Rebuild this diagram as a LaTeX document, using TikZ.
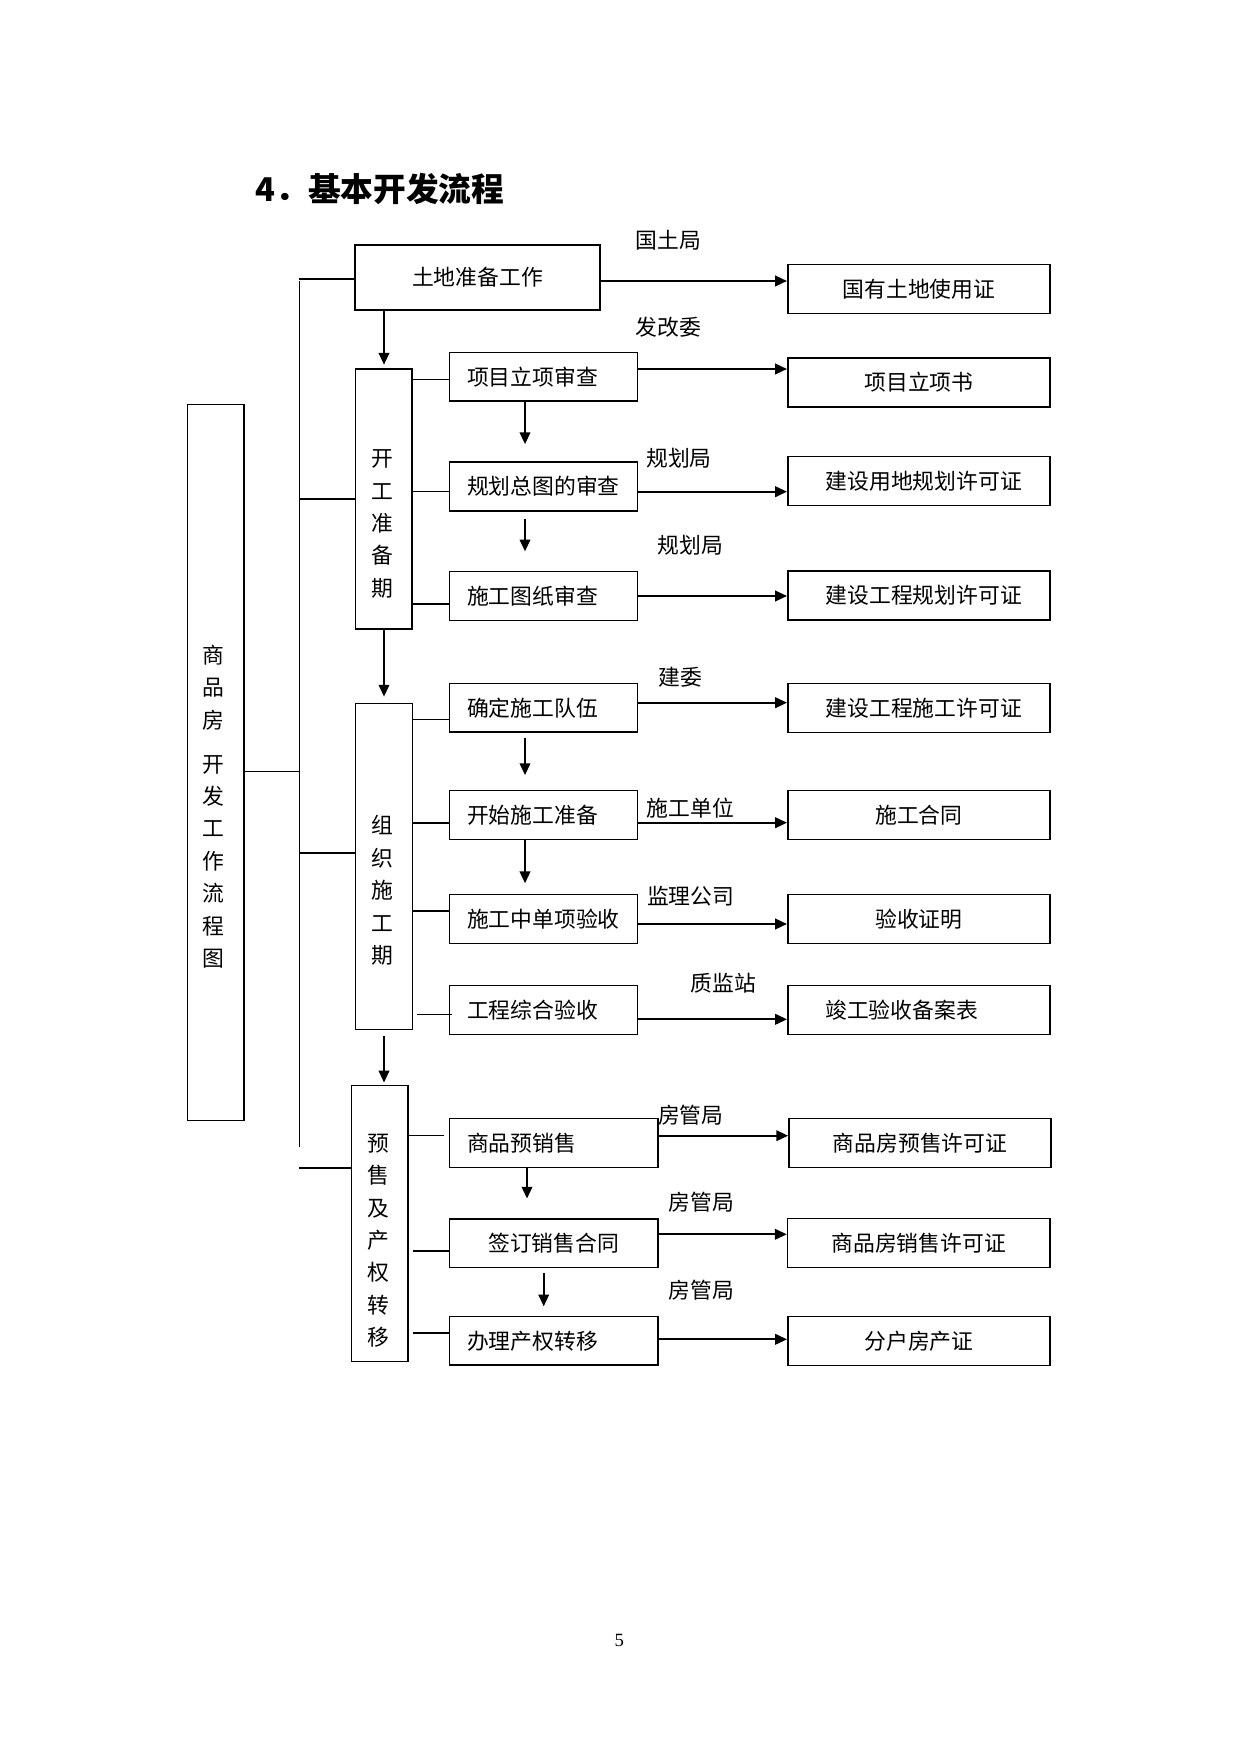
\documentclass[tikz,border=0pt]{standalone}
\usepackage{fontspec}
\setmainfont{Noto Sans CJK SC}
\newfontfamily\pagenumfont{Liberation Serif}
\usetikzlibrary{arrows.meta}
\def\px{0.169218mm}
\tikzset{
	boxline/.style={draw,line width=0.75pt,inner sep=0pt,font=\fontsize{10.5pt}{12pt}\selectfont},
	stagebox/.style={boxline,minimum width=56.7*\px},
	subbox/.style={boxline,minimum height=48.7*\px,inner xsep=17.7*\px,align=left},
	resultbox/.style={boxline,minimum width=262.3*\px,minimum height=49*\px},
	longresult/.style={resultbox,text width=186.3*\px,inner xsep=38*\px,align=left},
	vlabel/.style={align=center,inner sep=0pt,font=\fontsize{10.5pt}{15.6pt}\selectfont},
	agency/.style={inner sep=0pt,font=\fontsize{10.5pt}{12pt}\selectfont},
	conn/.style={line width=0.85pt},
	weakconn/.style={line width=0.4pt}
}

\begin{document}
\begin{tikzpicture}[line cap=rect,line join=miter,>={Triangle[length=2mm,width=1.8mm]},x=0.169218mm,y=-0.169218mm]
			\useasboundingbox (0,0) rectangle (1241,1754);
			\node[anchor=west,inner sep=0pt,font=\fontsize{15.75pt}{18pt}\selectfont\bfseries] (title) at (255,189) {4．基本开发流程};
			\node[stagebox,minimum width=56.5*\px,minimum height=715.8*\px] (big) at (215.75,762.4) {};
			\node[vlabel] (big-t) at (213.3,806.7) {商\\品\\房\\[5.5pt]开\\发\\工\\作\\流\\程\\图};
			\node[boxline,minimum width=244.8*\px,minimum height=65*\px] (land) at (477.6,277.5) {土地准备工作};
			\node[stagebox,minimum height=260*\px] (prep) at (383.9,499) {};
			\node[vlabel] (prep-t) at (382.2,523.9) {开\\工\\准\\备\\期};
			\node[stagebox,minimum height=326*\px] (build) at (384,866.3) {};
			\node[vlabel] (build-t) at (382.7,890.4) {组\\织\\施\\工\\期};
			\node[stagebox,minimum height=276*\px] (sale) at (379.7,1223.3) {};
			\node[vlabel] (sale-t) at (378.3,1240.8) {预\\售\\及\\产\\权\\转\\移};
			\node[subbox,text width=152.6*\px] (p1) at (543.3,376.7) {项目立项审查};
			\node[subbox,text width=152.6*\px] (p2) at (543.3,486.4) {规划总图的审查};
			\node[subbox,text width=152.6*\px] (p3) at (543.3,596) {施工图纸审查};
			\node[subbox,text width=152.6*\px] (b1) at (543.3,707.9) {确定施工队伍};
			\node[subbox,text width=152.6*\px] (b2) at (543.3,815) {开始施工准备};
			\node[subbox,text width=152.6*\px] (b3) at (543.3,919) {施工中单项验收};
			\node[subbox,text width=152.6*\px] (b4) at (543.3,1010) {工程综合验收};
			\node[subbox,text width=173.3*\px] (s1) at (553.65,1143) {商品预销售};
			\node[subbox,text width=173.3*\px,align=center] (s2) at (553.65,1243.2) {签订销售合同};
			\node[subbox,text width=173.3*\px] (s3) at (553.65,1340.9) {办理产权转移};
			\node[resultbox] (r0) at (918.9,288.8) {国有土地使用证};
			\node[resultbox] (r1) at (918.9,382.5) {项目立项书};
			\node[longresult] (r2) at (918.9,481.2) {建设用地规划许可证};
			\node[longresult] (r3) at (918.9,595.5) {建设工程规划许可证};
			\node[longresult] (r4) at (918.9,707.8) {建设工程施工许可证};
			\node[resultbox] (r5) at (918.9,815) {施工合同};
			\node[resultbox] (r6) at (918.9,918.9) {验收证明};
			\node[resultbox,text width=187.1*\px,inner xsep=37.6*\px,align=left] (r7) at (918.9,1009.8) {竣工验收备案表};
			\node[resultbox] (r8) at (920,1143) {商品房预售许可证};
			\node[resultbox] (r9) at (918.65,1243.2) {商品房销售许可证};
			\node[resultbox] (r10) at (918.9,1340.9) {分户房产证};
			\node[agency] (a0) at (668.7,240.7) {国土局};
			\node[agency] (a1) at (668.4,327.3) {发改委};
			\node[agency] (a2) at (679,458.3) {规划局};
			\node[agency] (a3) at (690.7,545.7) {规划局};
			\node[agency] (a4) at (680,677.3) {建委};
			\node[agency] (a5) at (690.5,808.3) {施工单位};
			\node[agency] (a6) at (690.7,896) {监理公司};
			\node[agency] (a7) at (723.3,983.3) {质监站};
			\node[agency] (a8) at (690.8,1115) {房管局};
			\node[agency] (a9) at (701.3,1201.7) {房管局};
			\node[agency] (a10) at (701.3,1290) {房管局};
			\node[inner sep=0pt,font=\pagenumfont\fontsize{9pt}{10pt}\selectfont] (pageno) at (619.3,1640.7) {5};
			\coordinate (bus top) at (299.5,281.5);
			\coordinate (bus end) at (299.5,1146);
			\coordinate (colA) at (384,0);
			\coordinate (colB) at (525,0);
			\coordinate (colC) at (527,0);
			\coordinate (colD) at (543.7,0);
			% left bus
			\draw [conn] (bus top)-- (bus end);
			\draw [conn] (bus top |- 0,279)-- (land.west |- 0,279);
			\draw [conn] (bus top |- prep.west)-- (prep.west);
			\draw [weakconn] (big.east |- 0,771)-- (bus top |- 0,771);
			\draw [conn] (bus top |- 0,853)-- (build.west |- 0,853);
			\draw [conn] (bus top |- 0,1167.7)-- (sale.west |- 0,1167.7);
			% stages
			\draw [conn,->,shorten >=0.6mm] (land.south -| colA)-- (prep.north -| colA);
			\draw [conn,->,shorten >=1mm] (prep.south -| colA)-- (build.north -| colA);
			\draw [conn,->,shorten <=1.1mm,shorten >=0.35mm] (build.south -| colA)-- (sale.north -| colA);
			% stage to step
			\draw [weakconn] (prep.east |- 0,379)-- (p1.west |- 0,379);
			\draw [weakconn] (prep.east |- 0,491.7)-- (p2.west |- 0,491.7);
			\draw [conn] (prep.east |- 0,603.7)-- (p3.west |- 0,603.7);
			\draw [weakconn] (build.east |- 0,719.3)-- (b1.west |- 0,719.3);
			\draw [conn] (build.east |- 0,823)-- (b2.west |- 0,823);
			\draw [conn] (build.east |- 0,910.7)-- (b3.west |- 0,910.7);
			\draw [weakconn,shorten <=0.8mm,shorten >=-0.5mm] (build.east |- 0,1014.3)-- (b4.west |- 0,1014.3);
			\draw [weakconn,shorten >=0.9mm] (sale.east |- 0,1135.3)-- (s1.west |- 0,1135.3);
			\draw [conn,shorten <=0.85mm] (sale.east |- 0,1250.7)-- (s2.west |- 0,1250.7);
			\draw [conn,shorten <=0.85mm] (sale.east |- 0,1332.7)-- (s3.west |- 0,1332.7);
			% step to step
			\draw [conn,->,shorten >=2.9mm] (p1.south -| colB)-- (p2.north -| colB);
			\draw [conn,->,shorten <=1.4mm,shorten >=3.3mm] (p2.south -| colB)-- (p3.north -| colB);
			\draw [conn,->,shorten <=1mm,shorten >=2.5mm] (b1.south -| colB)-- (b2.north -| colB);
			\draw [conn,->,shorten >=1.8mm] (b2.south -| colB)-- (b3.north -| colB);
			\draw [conn,->,shorten >=3.3mm] (s1.south -| colC)-- (s2.north -| colC);
			\draw [conn,->,shorten <=1mm,shorten >=1.6mm] (s2.south -| colD)-- (s3.north -| colD);
			% step to result
			\draw [conn,->] (land.east |- 0,281)-- (r0.west |- 0,281);
			\draw [conn,->] (p1.east |- 0,369)-- (r1.west |- 0,369);
			\draw [conn,->] (p2.east |- 0,491.7)-- (r2.west |- 0,491.7);
			\draw [conn,->] (p3.east |- 0,596)-- (r3.west |- 0,596);
			\draw [conn,->] (b1.east |- 0,702.7)-- (r4.west |- 0,702.7);
			\draw [conn,->] (b2.east |- 0,822.7)-- (r5.west |- 0,822.7);
			\draw [conn,->] (b3.east |- 0,924)-- (r6.west |- 0,924);
			\draw [conn,->] (b4.east |- 0,1019.3)-- (r7.west |- 0,1019.3);
			\draw [conn,->] (s1.east |- 0,1135.7)-- (r8.west |- 0,1135.7);
			\draw [conn,->] (s2.east |- 0,1234.3)-- (r9.west |- 0,1234.3);
			\draw [conn,->] (s3.east |- 0,1339.3)-- (r10.west |- 0,1339.3);
		\end{tikzpicture}
\end{document}
